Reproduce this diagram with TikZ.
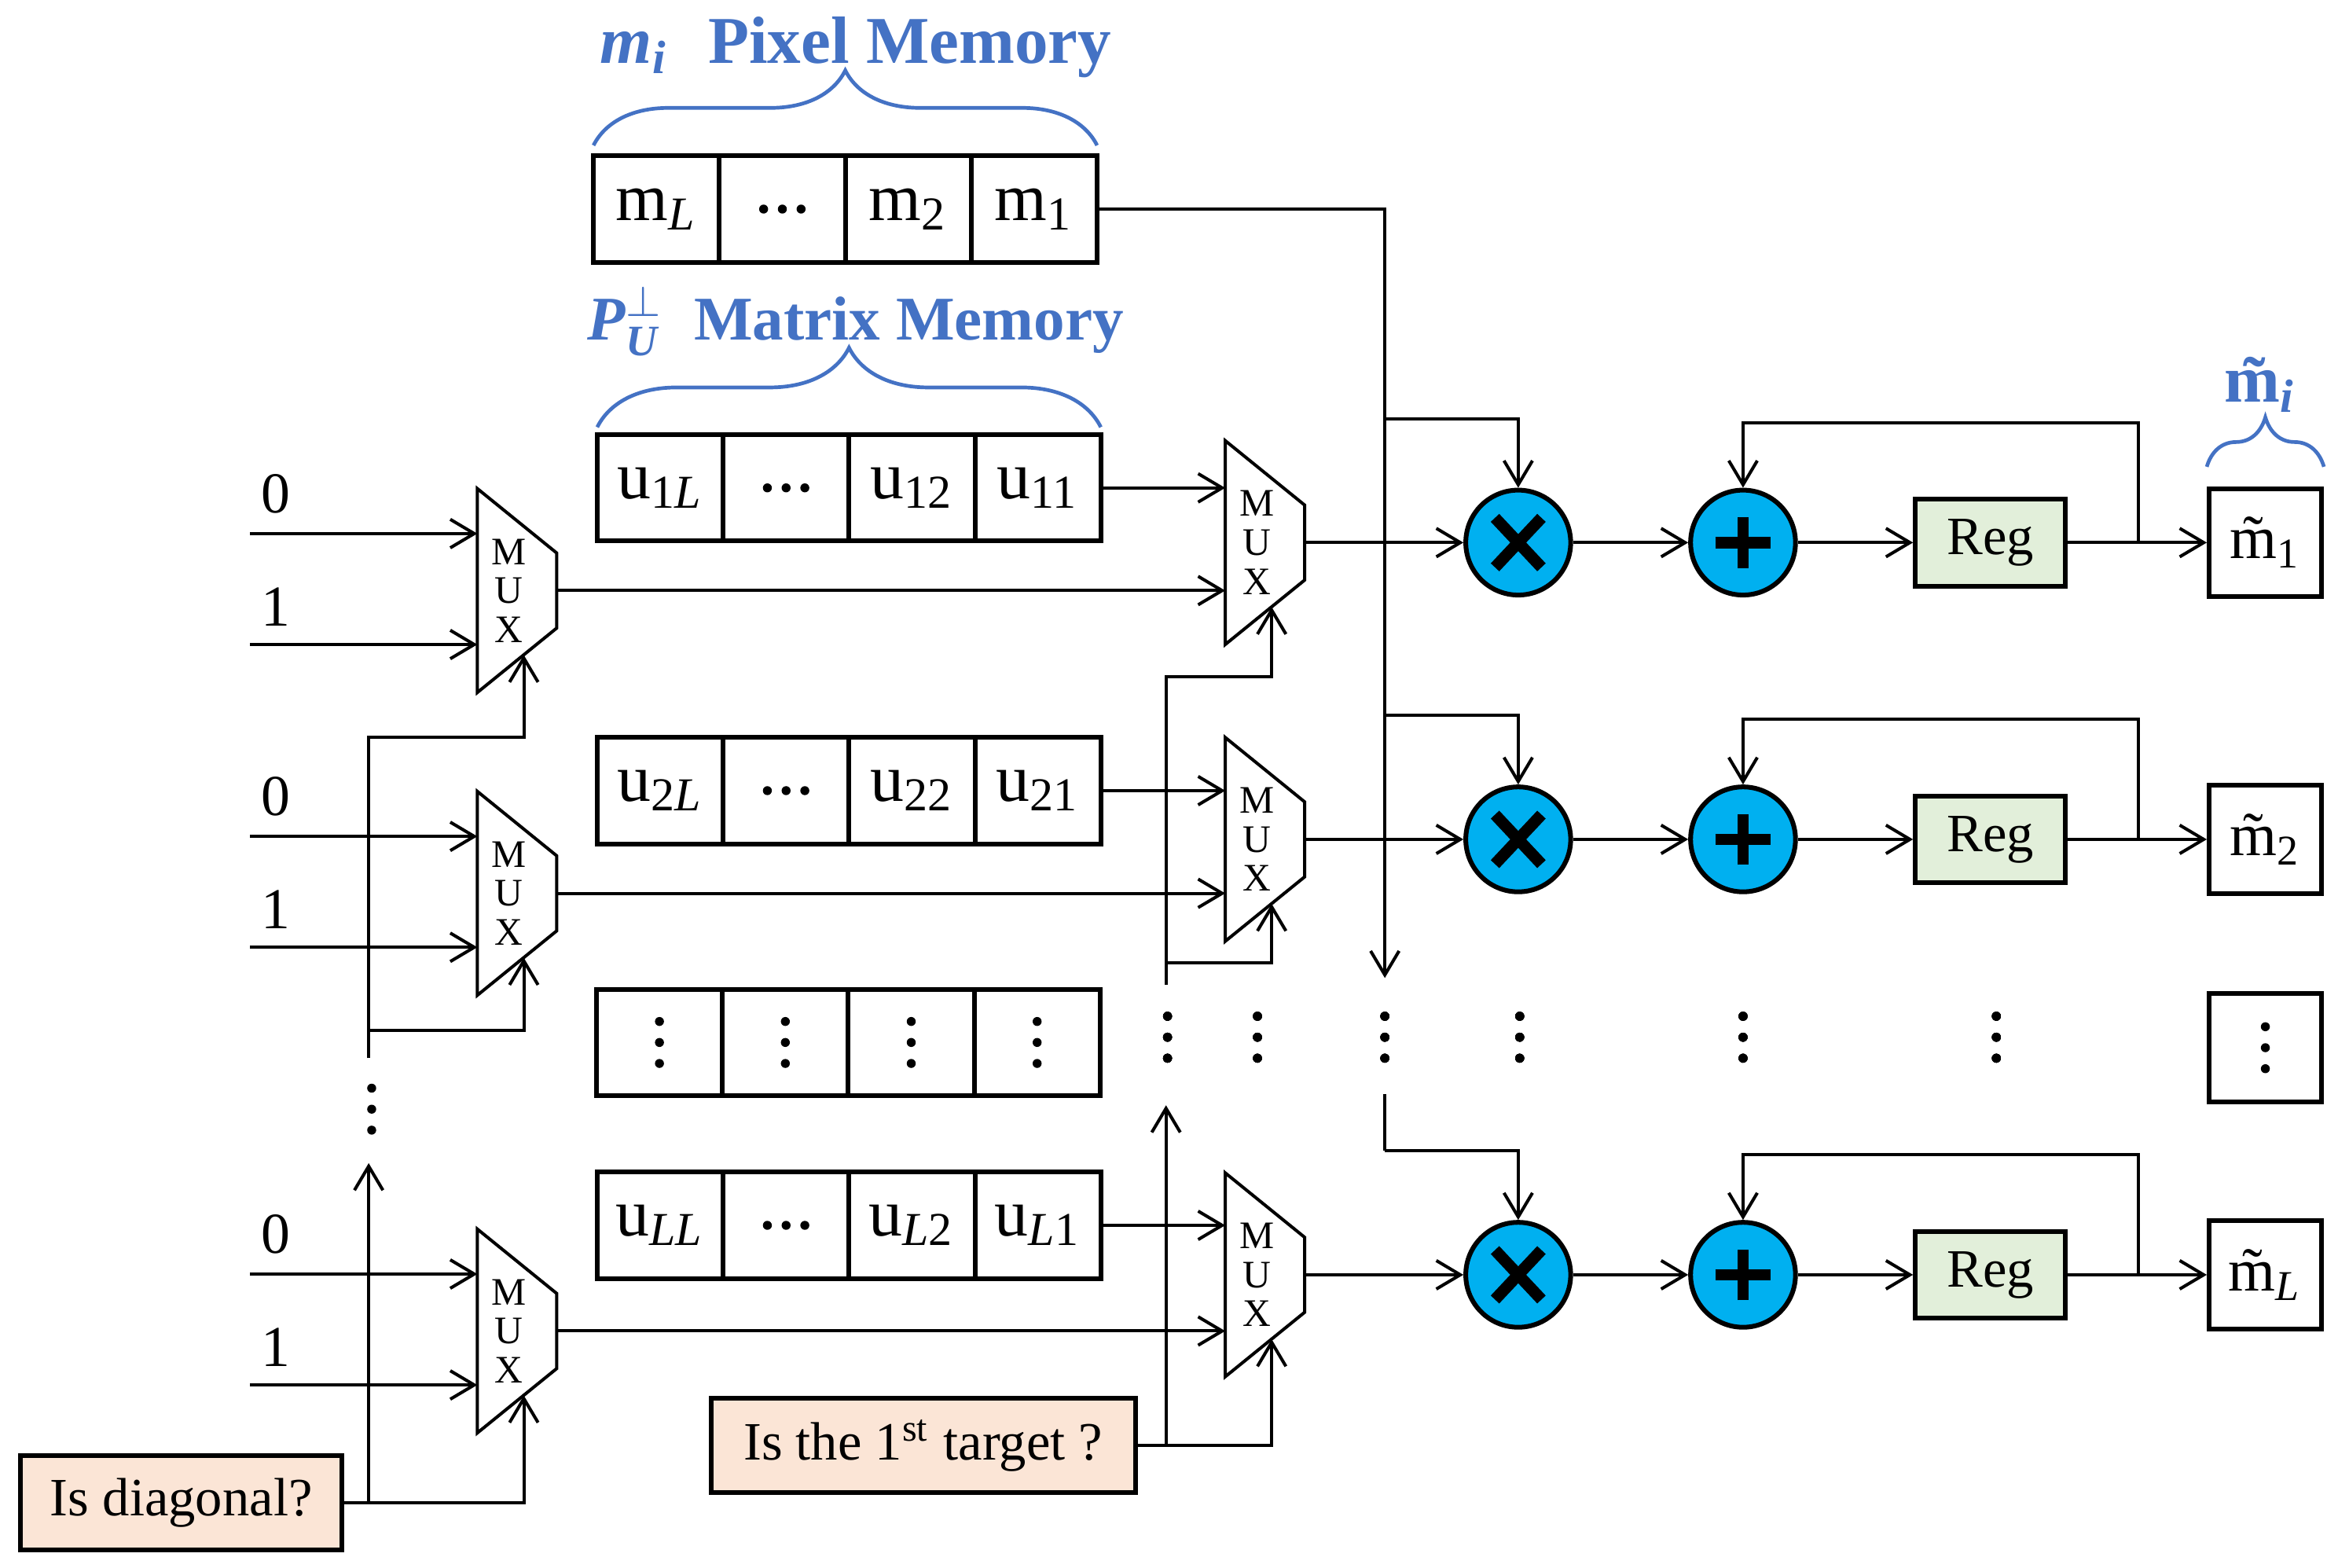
\documentclass[tikz,border=0pt]{standalone}
\usepackage{amsmath,amssymb}
\usepackage{fontspec}
\setmainfont{Liberation Serif}
\usepackage{tikz}
\usetikzlibrary{positioning,arrows.meta,decorations.pathreplacing}

\definecolor{memblue}{RGB}{68,114,196}
\definecolor{opcyan}{RGB}{0,176,240}
\definecolor{reggreen}{RGB}{226,239,218}
\definecolor{askpeach}{RGB}{251,229,214}

% three dots, upright and side by side
\newcommand{\vdotsat}[1]{\fill ([yshift=0.14cm]#1) circle (0.03) (#1) circle (0.03) ([yshift=-0.14cm]#1) circle (0.03);}
\newcommand{\hdotsat}[1]{\fill ([xshift=-0.125cm]#1) circle (0.03) (#1) circle (0.03) ([xshift=0.125cm]#1) circle (0.03);}
% multiplexer: name, left x, centre y
\newcommand{\muxunit}[3]{%
  \draw[muxline] (#2,#3+0.68) -- (#2+0.53,#3+0.25) -- (#2+0.53,#3-0.25) -- (#2,#3-0.68) -- cycle;
  \node[muxlbl] (#1) at (#2+0.21,#3) {M\\U\\X};
  \coordinate (#1-in) at (#2,#3);
  \coordinate (#1-out) at (#2+0.53,#3);
  \coordinate (#1-sel) at (#2+0.31,#3-0.43);
}

\begin{document}
\begin{tikzpicture}[
    >={Straight Barb[length=1.6mm,width=1.9mm]},
    line width=0.6pt,
    font=\fontsize{10.24}{12}\selectfont,
    cell/.style={draw,line width=0.9pt,minimum width=0.84cm,minimum height=0.71cm,inner sep=0pt,outer sep=0pt,font=\fontsize{12.8}{14}\selectfont},
    muxline/.style={line width=0.6pt,line join=miter},
    muxlbl/.style={font=\fontsize{7.4}{7.4}\selectfont,align=center,inner sep=0pt},
    bitlbl/.style={font=\fontsize{11}{12}\selectfont,inner sep=0pt},
    opnode/.style={circle,draw,line width=0.9pt,fill=opcyan,minimum size=0.70cm,inner sep=0pt},
    opsym/.style={line width=2.2pt},
    regbox/.style={draw,line width=0.9pt,fill=reggreen,minimum width=1.0cm,minimum height=0.58cm,inner sep=0pt},
    outbox/.style={draw,line width=0.9pt,minimum width=0.75cm,minimum height=0.72cm,inner sep=0pt,font=\fontsize{11.5}{13}\selectfont},
    askbox/.style={draw,line width=0.9pt,fill=askpeach,minimum height=0.63cm,inner sep=0pt},
    title/.style={text=memblue,font=\bfseries\fontsize{12.7}{14}\selectfont,inner sep=0pt},
    brc/.style={decorate,decoration={brace,amplitude=0.5cm},draw=memblue,line width=0.7pt}
  ]
  \useasboundingbox (0,0) rectangle (15.60,-10.46);

  % pixel memory
  \node[cell] (mL) at (4.38,-1.395) {m\textsubscript{\textit{L}}};
  \node[cell,right=0pt of mL] (md) {};
  \node[cell,right=0pt of md] (m2) {m\textsubscript{2}};
  \node[cell,right=0pt of m2] (m1) {m\textsubscript{1}};
  \hdotsat{md.center}
  \draw[brc] ([yshift=0.07cm]mL.north west) -- ([yshift=0.07cm]m1.north east);
  \node[title,anchor=base] (pixT) at (5.71,-0.42) {\textit{m}\textsubscript{\textit{i}}\hspace{0.35em} Pixel Memory};

  % one row per column of the matrix
  \foreach \r/\yr/\yl/\yu/\ri in {1/-3.62/-3.94/-3.255/1, 2/-5.60/-5.96/-5.275/2, L/-8.505/-8.88/-8.175/\textit{L}} {
    \node[cell] (u\r-L) at (4.405,\yu) {u\textsubscript{\ri\textit{L}}};
    \node[cell,right=0pt of u\r-L] (u\r-d) {};
    \node[cell,right=0pt of u\r-d] (u\r-2) {u\textsubscript{\ri 2}};
    \node[cell,right=0pt of u\r-2] (u\r-1) {u\textsubscript{\ri 1}};
    \hdotsat{u\r-d.center}

    \muxunit{lm\r}{3.185}{\yl}
    \muxunit{rm\r}{8.175}{\yr}

    \coordinate (in0\r) at (1.67,\yl+0.38);
    \coordinate (in1\r) at (1.67,\yl-0.36);
    \node[bitlbl] (b0\r) at (1.84,\yl+0.645) {0};
    \node[bitlbl] (b1\r) at (1.84,\yl-0.11) {1};
    \draw[->] (in0\r) -- (in0\r -| lm\r-in);
    \draw[->] (in1\r) -- (in1\r -| lm\r-in);
    \draw[->] (u\r-1.east) -- (u\r-1.east -| rm\r-in);
    \draw[->] (lm\r-out) -- (lm\r-out -| rm\r-in);

    \node[opnode] (mul\r) at (10.13,\yr) {};
    \node[opnode] (add\r) at (11.63,\yr) {};
    \draw[opsym] (mul\r.center) +(-0.155,-0.165) -- +(0.155,0.165) +(-0.155,0.165) -- +(0.155,-0.165);
    \draw[opsym] (add\r.center) +(-0.185,0) -- +(0.185,0) +(0,-0.17) -- +(0,0.17);
    \node[regbox] (reg\r) at (13.28,\yr) {Reg};
    \node[outbox] (out\r) at (15.115,\yr) {\~{m}\textsubscript{\ri}};

    \draw[->] (rm\r-out) -- (mul\r);
    \draw[->] (mul\r) -- (add\r);
    \draw[->] (add\r) -- (reg\r);
    \draw[->] (reg\r) -- (out\r);
    \draw[->] (reg\r.east) ++(0.47,0) -- ++(0,0.80) -| (add\r.north);
    \path (mul\r.north) ++(0,0.46) coordinate (br\r);
  }

  \draw[brc,decoration={amplitude=0.53cm}] ([yshift=0.05cm]u1-L.north west) -- ([yshift=0.05cm]u1-1.north east);
  \node[title,anchor=base,font=\bfseries\fontsize{11.8}{14}\selectfont] (matT) at (5.71,-2.27) {$\textit{P}^{\perp}_{\textit{U}}$\hspace{0.25em} Matrix Memory};
  \draw[brc,decoration={amplitude=0.33cm}] ([yshift=0.13cm]out1.north west) -- ([yshift=0.13cm]out1.north east);
  \node[title,anchor=base] (outT) at (15.08,-2.68) {\~{m}\textsubscript{\textit{i}}};

  % dotted row
  \node[cell] (v1) at (4.40,-6.955) {};
  \node[cell,right=0pt of v1] (v2) {};
  \node[cell,right=0pt of v2] (v3) {};
  \node[cell,right=0pt of v3] (v4) {};
  \node[outbox] (outd) at (15.115,-6.99) {};
  \foreach \n in {v1,v2,v3,v4,outd}
    \vdotsat{\n.center}
  \foreach \x/\n in {7.79/a, 8.39/b, 9.24/c, 10.14/d, 11.63/e, 13.32/f} {
    \coordinate (dr\n) at (\x,-6.92);
    \vdotsat{dr\n}
  }
  \coordinate (dl) at (2.48,-7.40);
  \vdotsat{dl}

  % pixel value to the multipliers
  \coordinate (pEnd) at (9.24,-6.525);
  \coordinate (pLow) at (9.24,-7.30);
  \draw[->] (m1.east) -| (pEnd);
  \foreach \r in {1,2,L}
    \draw[->] (br\r -| pEnd) -| (mul\r.north);
  \draw (pLow) -- (brL -| pLow);

  % select lines
  \node[askbox,minimum width=2.145cm] (dq) at (1.21,-10.025) {Is diagonal?};
  \node[askbox,minimum width=2.83cm] (tq) at (6.16,-9.645) {Is the 1\textsuperscript{st} target ?};

  \coordinate (dUp) at (2.46,-7.06);
  \coordinate (dArr) at (2.46,-7.76);
  \draw[->] (dUp) -- ++(0,2.14) -| (lm1-sel);
  \draw[->] (dUp) ++(0,0.185) -| (lm2-sel);
  \draw[->] (dq.east) -| (lmL-sel);
  \draw[->] (dq.east -| dArr) -- (dArr);

  \coordinate (tUp) at (7.78,-6.57);
  \coordinate (tArr) at (7.78,-7.374);
  \draw[->] (tUp) -- ++(0,2.054) -| (rm1-sel);
  \draw[->] (tUp) ++(0,0.145) -| (rm2-sel);
  \draw[->] (tq.east) -| (rmL-sel);
  \draw[->] (tq.east -| tArr) -- (tArr);
\end{tikzpicture}
\end{document}
